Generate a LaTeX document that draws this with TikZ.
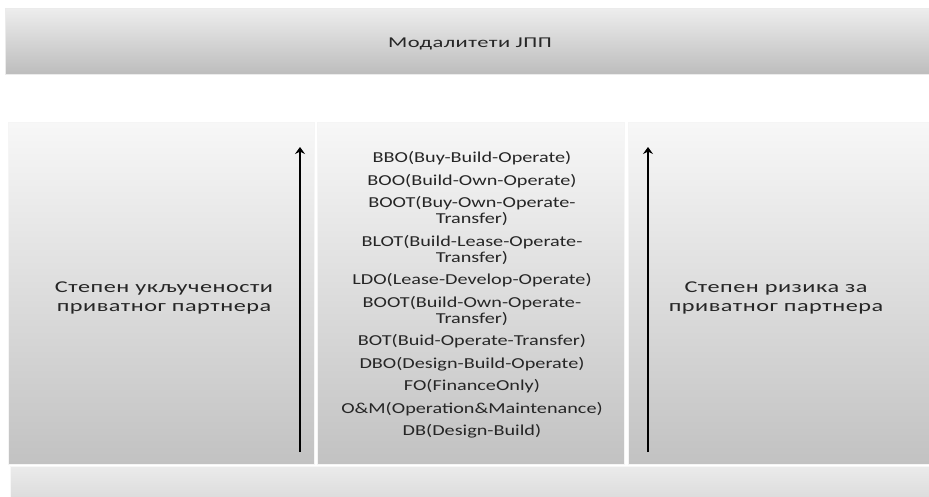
\documentclass[tikz,border=0pt]{standalone}
\usepackage{fontspec}
\setmainfont[FakeStretch=1.33]{Carlito}
\newfontfamily\topfont[FakeStretch=1.5,LetterSpace=3]{Carlito}
\newfontfamily\sidefont[FakeStretch=1.47,LetterSpace=3]{Carlito}
\usetikzlibrary{arrows.meta}
\tikzset{
  bar/.style={rectangle, anchor=north west, inner sep=0pt, draw=white!92!black, line width=0.8pt,
    top color=white!93!black, bottom color=white!74!black},
  panel/.style={rectangle, anchor=north west, inner sep=0pt, draw=white!96!black, line width=1.2pt,
    top color=white!97!black, bottom color=white!76!black},
  basebar/.style={rectangle, anchor=north west, inner sep=0pt, draw=white!97!black, line width=0.8pt,
    top color=white!92!black, bottom color=white!85!black},
  lbl/.style={text=black!85, align=center},
  axis/.style={line width=1.9pt, -{Stealth[length=7pt,width=10pt,inset=2.5pt]}}
}
\begin{document}
\begin{tikzpicture}[x=1pt,y=-1pt]
\clip (0,0) rectangle (929,497);
\useasboundingbox (0,0) rectangle (929,497);
\fill[white] (0,0) rectangle (929,497);
\node[bar, minimum width=940pt, minimum height=66pt] (top) at (5,8) {};
\node[lbl, font=\topfont\fontsize{15}{18}\selectfont] (toptext) at (470,44) {Модалитети ЈПП};
\node[panel, minimum width=306pt, minimum height=342pt] (left) at (8,122) {};
\node[panel, minimum width=307pt, minimum height=342pt] (mid) at (317,122) {};
\node[panel, minimum width=320pt, minimum height=342pt] (right) at (628,122) {};
\node[basebar, minimum width=935pt, minimum height=40pt] (bottom) at (10,466) {};
\node[lbl, font=\sidefont\fontsize{16.5}{19}\selectfont] (ltext) at (164,298) {Степен укључености\\приватног партнера};
\node[lbl, font=\sidefont\fontsize{16.5}{19}\selectfont] (rtext) at (776,298) {Степен ризика за\\приватног партнера};
\node[lbl, font=\fontsize{15.2}{16}\selectfont] (list) at (472,295) {BBO(Buy-Build-Operate)\\[6.5pt]
BOO(Build-Own-Operate)\\[6.5pt]
BOOT(Buy-Own-Operate-\\Transfer)\\[6.5pt]
BLOT(Build-Lease-Operate-\\Transfer)\\[6.5pt]
LDO(Lease-Develop-Operate)\\[6.5pt]
BOOT(Build-Own-Operate-\\Transfer)\\[6.5pt]
BOT(Buid-Operate-Transfer)\\[6.5pt]
DBO(Design-Build-Operate)\\[6.5pt]
FO(FinanceOnly)\\[6.5pt]
O\&M(Operation\&Maintenance)\\[6.5pt]
DB(Design-Build)};
\coordinate (la0) at (300,452);
\coordinate (la1) at (300,147);
\coordinate (ra0) at (648,452);
\coordinate (ra1) at (648,147);
\draw[axis] (la0) -- (la1);
\draw[axis] (ra0) -- (ra1);
\end{tikzpicture}
\end{document}
